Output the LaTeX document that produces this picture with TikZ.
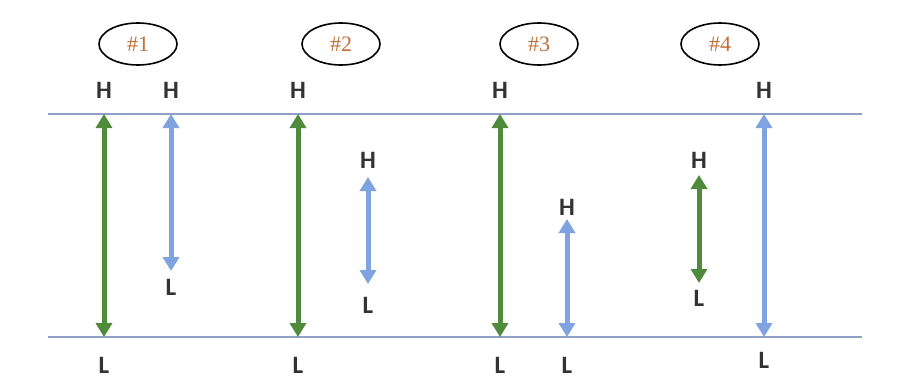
\documentclass[tikz,border=0pt]{standalone}
\usepackage{fontspec}
\setmainfont{Carlito}
\newfontfamily\serifnum{Liberation Serif}
\usetikzlibrary{arrows.meta,shapes.geometric}
\definecolor{lvlline}{HTML}{8FA0C4}
\definecolor{grn}{HTML}{4F8B3B}
\definecolor{blu}{HTML}{7FA2E0}
\definecolor{numcol}{HTML}{C0703A}
\tikzset{
  lvl/.style={lvlline, line width=2.2pt},
  garr/.style={grn, line width=5pt, {Triangle[width=16pt,length=14pt]}-{Triangle[width=16pt,length=14pt]}, shorten <=-1pt, shorten >=-1pt},
  barr/.style={blu, line width=5pt, {Triangle[width=16pt,length=14pt]}-{Triangle[width=16pt,length=14pt]}, shorten <=-1pt, shorten >=-1pt},
  lab/.style={font=\bfseries\fontsize{25}{27}\selectfont, text=black!80, inner sep=0pt},
  num/.style={draw=black, line width=1.6pt, ellipse, minimum width=78pt, minimum height=42pt, inner sep=0pt, font=\serifnum\fontsize{22}{24}\selectfont, text=numcol}
}
\begin{document}
\begin{tikzpicture}[x=1pt,y=-1pt]
\useasboundingbox[fill=white] (0,0) rectangle (904,385);
% level lines
\coordinate (tl) at (48,114); \coordinate (tr) at (862,114);
\coordinate (bl) at (48,337); \coordinate (br) at (862,337);
\draw[lvl] (tl) -- (tr);
\draw[lvl] (bl) -- (br);
% ellipses
\node[num] (n1) at (138,44) {\#1};
\node[num] (n2) at (341,44) {\#2};
\node[num] (n3) at (539,44) {\#3};
\node[num] (n4) at (720,44) {\#4};
% #1
\coordinate (g1t) at (104,115); \coordinate (g1b) at (104,336);
\draw[garr] (g1t) -- (g1b);
\node[lab] (g1h) at (104,90) {H}; \node[lab] (g1l) at (104,365) {L};
\coordinate (b1t) at (171,115); \coordinate (b1b) at (171,270);
\draw[barr] (b1t) -- (b1b);
\node[lab] (b1h) at (171,90) {H}; \node[lab] (b1l) at (171,287) {L};
% #2
\coordinate (g2t) at (298,115); \coordinate (g2b) at (298,336);
\draw[garr] (g2t) -- (g2b);
\node[lab] (g2h) at (298,90) {H}; \node[lab] (g2l) at (298,365) {L};
\coordinate (b2t) at (368,178); \coordinate (b2b) at (368,283);
\draw[barr] (b2t) -- (b2b);
\node[lab] (b2h) at (368,160) {H}; \node[lab] (b2l) at (368,305) {L};
% #3
\coordinate (g3t) at (500,115); \coordinate (g3b) at (500,336);
\draw[garr] (g3t) -- (g3b);
\node[lab] (g3h) at (500,90) {H}; \node[lab] (g3l) at (500,365) {L};
\coordinate (b3t) at (567,220); \coordinate (b3b) at (567,336);
\draw[barr] (b3t) -- (b3b);
\node[lab] (b3h) at (567,207) {H}; \node[lab] (b3l) at (567,365) {L};
% #4
\coordinate (g4t) at (699,176); \coordinate (g4b) at (699,282);
\draw[garr] (g4t) -- (g4b);
\node[lab] (g4h) at (699,160) {H}; \node[lab] (g4l) at (699,298) {L};
\coordinate (b4t) at (764,115); \coordinate (b4b) at (764,336);
\draw[barr] (b4t) -- (b4b);
\node[lab] (b4h) at (764,90) {H}; \node[lab] (b4l) at (764,360) {L};
\end{tikzpicture}
\end{document}
